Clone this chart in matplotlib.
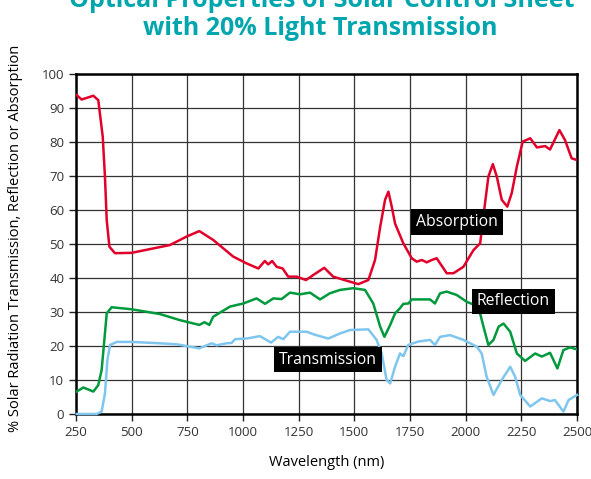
import matplotlib.pyplot as plt

plt.rcParams['font.family'] = ['Open Sans', 'DejaVu Sans']

# wavelength (nm) / percent
abs_x = [253, 275, 328, 350, 370, 380, 388, 400, 425, 500, 672, 747, 804, 866,
         956, 1016, 1069, 1098, 1113, 1131, 1151, 1178, 1203, 1241, 1283, 1316,
         1365, 1405, 1466, 1518, 1563, 1593, 1616, 1638, 1653, 1668, 1683, 1720,
         1758, 1780, 1803, 1825, 1848, 1870, 1915, 1945, 1990, 2035, 2065, 2087,
         2102, 2122, 2140, 2162, 2187, 2207, 2230, 2256, 2290, 2320, 2357, 2379,
         2421, 2446, 2476, 2500]
abs_y = [93.8, 92.5, 93.6, 92.3, 81.6, 69.8, 57.0, 49.2, 47.3, 47.4, 49.7, 52.2,
         53.8, 51.2, 46.3, 44.3, 42.8, 45.0, 44.0, 45.0, 43.3, 42.8, 40.4, 40.4,
         39.4, 40.9, 43.0, 40.4, 39.2, 38.2, 39.4, 45.3, 55.0, 63.0, 65.4, 61.0,
         56.0, 50.2, 45.8, 44.8, 45.3, 44.6, 45.3, 45.8, 41.4, 41.4, 43.3, 48.2,
         50.2, 62.0, 69.8, 73.5, 69.8, 63.0, 61.0, 65.0, 72.8, 80.1, 81.1, 78.4,
         78.8, 77.8, 83.5, 80.6, 75.2, 74.7]

ref_x = [253, 283, 328, 350, 365, 376, 388, 410, 500, 627, 717, 804, 827, 849,
         866, 942, 1001, 1061, 1099, 1136, 1173, 1211, 1256, 1301, 1346, 1390,
         1436, 1495, 1548, 1585, 1616, 1635, 1661, 1683, 1705, 1720, 1743, 1758,
         1840, 1862, 1885, 1915, 1960, 2005, 2057, 2080, 2102, 2125, 2148, 2170,
         2200, 2230, 2267, 2312, 2342, 2379, 2412, 2439, 2469, 2500]
ref_y = [6.6, 7.8, 6.6, 8.5, 12.9, 20.8, 29.6, 31.4, 30.8, 29.4, 27.6, 26.2,
         27.0, 26.2, 28.6, 31.6, 32.5, 34.0, 32.4, 34.0, 33.8, 35.7, 35.2, 35.7,
         33.7, 35.5, 36.5, 37.0, 36.5, 32.5, 25.7, 22.7, 26.2, 29.6, 31.1, 32.4,
         32.5, 33.7, 33.7, 32.5, 35.5, 36.0, 35.0, 33.0, 31.6, 25.7, 20.3, 21.8,
         25.7, 26.6, 24.2, 17.8, 15.6, 17.8, 16.9, 18.0, 13.4, 18.8, 19.6, 19.0]

tra_x = [253, 343, 365, 380, 391, 403, 433, 500, 627, 702, 804, 859, 881, 926,
         949, 964, 1016, 1076, 1126, 1158, 1181, 1211, 1286, 1323, 1383, 1436,
         1481, 1563, 1600, 1623, 1645, 1661, 1683, 1705, 1720, 1742, 1787, 1840,
         1862, 1885, 1930, 1990, 2050, 2072, 2094, 2125, 2162, 2200, 2222, 2245,
         2290, 2342, 2379, 2401, 2439, 2462, 2500]
tra_y = [0.0, 0.0, 0.7, 6.0, 15.9, 20.3, 21.2, 21.2, 20.8, 20.5, 19.3, 20.8,
         20.2, 20.8, 20.9, 22.0, 22.2, 22.9, 21.0, 22.7, 22.0, 24.2, 24.2, 23.3,
         22.2, 23.7, 24.7, 24.9, 21.8, 17.8, 10.0, 9.0, 13.9, 17.8, 17.0, 20.3,
         21.3, 21.8, 20.3, 22.7, 23.2, 21.8, 19.8, 17.8, 11.0, 5.6, 10.0, 13.9,
         11.0, 5.6, 2.2, 4.6, 3.8, 4.1, 0.7, 4.1, 5.6]

x_ticks = [250, 500, 750, 1000, 1250, 1500, 1750, 2000, 2250, 2500]
y_ticks = list(range(0, 101, 10))

series_labels = ['Absorption', 'Reflection', 'Transmission']
label_pos = [(1961, 56.5), (2215, 33.1), (1382, 16.0)]

fig = plt.figure(figsize=(5.91, 4.79), dpi=100)
ax = fig.add_axes([0.1286, 0.1357, 0.8477, 0.7098])

ax.plot(abs_x, abs_y, color='#e2002a', lw=1.8, zorder=3)
ax.plot(ref_x, ref_y, color='#009a3d', lw=1.8, zorder=3)
ax.plot(tra_x, tra_y, color='#7fc6ef', lw=1.8, zorder=3, clip_on=False)

ax.set_xlim(250, 2500)
ax.set_ylim(0, 100)
ax.set_xticks(x_ticks)
ax.set_yticks(y_ticks)
ax.grid(True, color='#333333', lw=0.9)
ax.set_axisbelow(True)
for s in ax.spines.values():
    s.set_linewidth(1.8)
ax.tick_params(direction='out', length=5, width=1, labelsize=9.5, colors='#222222',
               labelcolor='#333333')

for name, (lx, ly) in zip(series_labels, label_pos):
    ax.text(lx, ly, name, color='white', fontsize=11.3, ha='center', va='center',
            zorder=5, bbox=dict(boxstyle='square,pad=0.3', fc='black', ec='none'))

ax.set_xlabel('Wavelength (nm)', fontsize=10.5, labelpad=12)

W, H = 591, 479
fig.text(322 / W, 1 - 7 / H, 'Optical Properties of Solar Control Sheet', color='#00a6ae',
         fontsize=18, fontweight='bold', ha='center', va='baseline')
fig.text(320 / W, 1 - 35 / H, 'with 20% Light Transmission', color='#00a6ae',
         fontsize=18, fontweight='bold', ha='center', va='baseline')
fig.text(16 / W, 1 - 432 / H, '% Solar Radiation Transmission, Reflection or Absorption',
         rotation=90, fontsize=10.5, ha='center', va='bottom')

fig.savefig('out.png', dpi=100)
